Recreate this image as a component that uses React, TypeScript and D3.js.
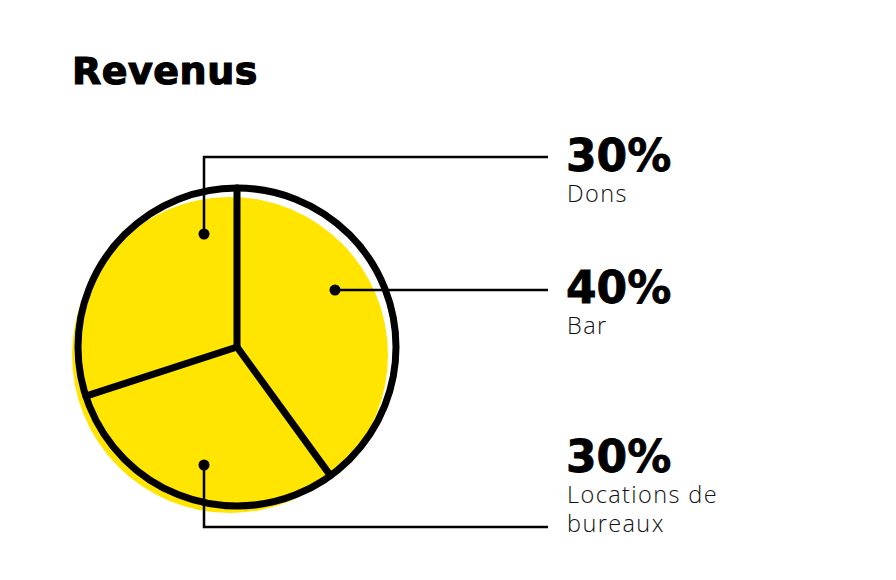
import React from "react";
import * as d3 from "d3";

const categories = ["Dons", "Bar", "Locations de bureaux"];
const values = [30, 40, 30];
const pctLabels = ["30%", "40%", "30%"];
const labelLines = [["Dons"], ["Bar"], ["Locations de", "bureaux"]];

const W = 896, H = 580;
const cx = 237, cy = 347, r = 159;

export default function App() {
  // order: Bar (start at top, clockwise), Locations, Dons
  const order = [1, 2, 0];
  const pie = d3.pie<number>().sort(null).value((i) => values[i]);
  const arcs = pie(order);

  const dDons = [204, 234];
  const dBar = [335, 290];
  const dLoc = [204, 465];
  const lineEnd = 548;
  const textX = 566;

  return (
    <svg width={W} height={H} style={{ position: "absolute", left: 0, top: 0, background: "#fff" }}>
      <text x={72} y={84} fontFamily="DejaVu Sans" fontWeight={900} fontSize={38} letterSpacing={0.5} fill="#000" stroke="#000" strokeWidth={1.2}>Revenus</text>
      <circle cx={cx - 7} cy={cy + 8} r={158} fill="#FFE500" />
      <circle cx={cx} cy={cy} r={r} fill="none" stroke="#000" strokeWidth={7} />
      {arcs.map((a, k) => {
        const ang = a.startAngle;
        return (
          <line key={k} x1={cx} y1={cy} x2={cx + Math.sin(ang) * r} y2={cy - Math.cos(ang) * r}
            stroke="#000" strokeWidth={7} strokeLinecap="round" />
        );
      })}
      <path d={`M${dDons[0]},${dDons[1]} V157 H${lineEnd}`} fill="none" stroke="#000" strokeWidth={2.5} />
      <path d={`M${dBar[0]},${dBar[1]} H${lineEnd}`} fill="none" stroke="#000" strokeWidth={2.5} />
      <path d={`M${dLoc[0]},${dLoc[1]} V527 H${lineEnd}`} fill="none" stroke="#000" strokeWidth={2.5} />
      {[dDons, dBar, dLoc].map((p, k) => (
        <circle key={k} cx={p[0]} cy={p[1]} r={5.5} fill="#000" />
      ))}
      {[0, 1, 2].map((i) => {
        const base = [171, 303, 472][i];
        return (
          <g key={i}>
            <text x={textX} y={base} fontFamily="DejaVu Sans" fontWeight={700} fontSize={44} fill="#000" stroke="#000" strokeWidth={0.8}>{pctLabels[i]}</text>
            {labelLines[i].map((t, j) => (
              <text key={j} x={textX + 1} y={base + 31 + j * 29} fontFamily="Open Sans" fontWeight={300} fontSize={23.5} letterSpacing={1.4} fill="#111">{t}</text>
            ))}
          </g>
        );
      })}
    </svg>
  );
}
